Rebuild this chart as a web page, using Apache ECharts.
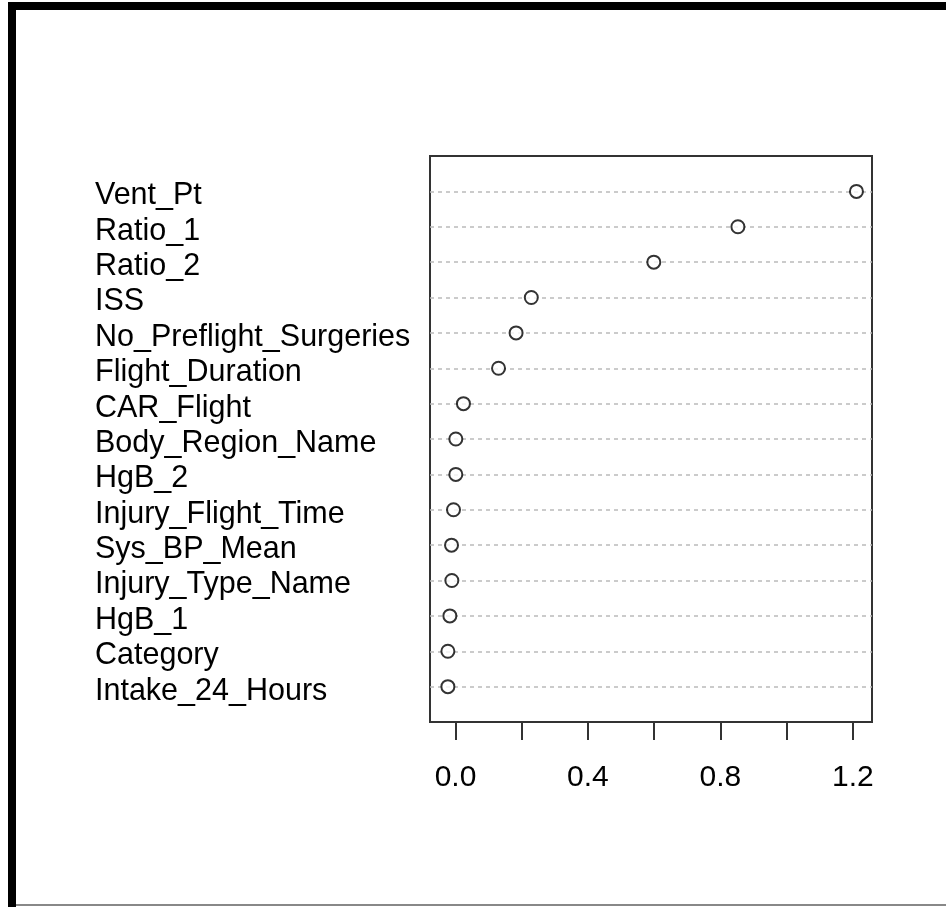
<!DOCTYPE html>
<html>
<head>
<meta charset="utf-8">
<script src="https://cdn.jsdelivr.net/npm/echarts@6/dist/echarts.min.js"></script>
<style>
  html, body { margin: 0; padding: 0; background: #fff; }
  #wrap { position: relative; width: 946px; height: 907px; overflow: hidden; }
  #chart { width: 946px; height: 907px; }
  .edge { position: absolute; background: #000; pointer-events: none; }
</style>
</head>
<body>
<div id="wrap">
  <div id="chart"></div>
  <!-- frame around the picture -->
  <div class="edge" style="left:8px; top:2px; width:938px; height:8px;"></div>
  <div class="edge" style="left:8px; top:2px; width:8px; height:905px;"></div>
  <div class="edge" style="left:16px; top:904px; width:930px; height:2px; background:#888;"></div>
</div>
<script>
// variable names, top to bottom
const variables = [
  'Vent_Pt', 'Ratio_1', 'Ratio_2', 'ISS', 'No_Preflight_Surgeries',
  'Flight_Duration', 'CAR_Flight', 'Body_Region_Name', 'HgB_2',
  'Injury_Flight_Time', 'Sys_BP_Mean', 'Injury_Type_Name', 'HgB_1',
  'Category', 'Intake_24_Hours'
];

// importance
const importance = [
  1.211, 0.853, 0.599, 0.229, 0.183,
  0.130, 0.024, 0.001, 0.001,
  -0.006, -0.012, -0.011, -0.017,
  -0.023, -0.023
];

const tickValues = [0, 0.2, 0.4, 0.6, 0.8, 1.0, 1.2];
const labelValues = [0, 0.4, 0.8, 1.2];

const font = 'Arial, "Liberation Sans", sans-serif';

const chart = echarts.init(document.getElementById('chart'));

chart.setOption({
  animation: false,
  grid: {
    left: 430,
    right: 74,
    top: 156,
    bottom: 185,
    show: true,
    borderColor: '#333',
    borderWidth: 2,
    backgroundColor: 'transparent'
  },
  xAxis: {
    type: 'value',
    position: 'bottom',
    min: -0.077,
    max: 1.258,
    axisLine: { show: false, onZero: false },
    splitLine: { show: false },
    axisTick: {
      show: true,
      length: 18,
      customValues: tickValues,
      lineStyle: { color: '#333', width: 2 }
    },
    axisLabel: {
      customValues: labelValues,
      margin: 41,
      fontSize: 30,
      fontFamily: font,
      color: '#000',
      formatter: v => v.toFixed(1)
    }
  },
  yAxis: {
    type: 'value',
    min: 0,
    max: 16,
    interval: 1,
    inverse: true,
    axisLine: { show: false },
    axisTick: { show: false },
    splitLine: {
      show: true,
      showMinLine: false,
      showMaxLine: false,
      lineStyle: { color: '#bbb', type: [4, 4], width: 1.5 }
    },
    axisLabel: {
      align: 'left',
      margin: 335,
      formatter: v => (v >= 1 && v <= variables.length) ? '{n|' + variables[v - 1] + '}' : '',
      rich: {
        n: {
          fontSize: 30.5,
          fontFamily: font,
          color: '#000',
          padding: [9, 0, 0, 0]
        }
      }
    }
  },
  series: [{
    type: 'scatter',
    symbol: 'circle',
    symbolSize: 13,
    clip: false,
    itemStyle: { color: '#fff', borderColor: '#000', borderWidth: 2 },
    data: importance.map((v, i) => [v, i + 1])
  }]
});
</script>
</body>
</html>
